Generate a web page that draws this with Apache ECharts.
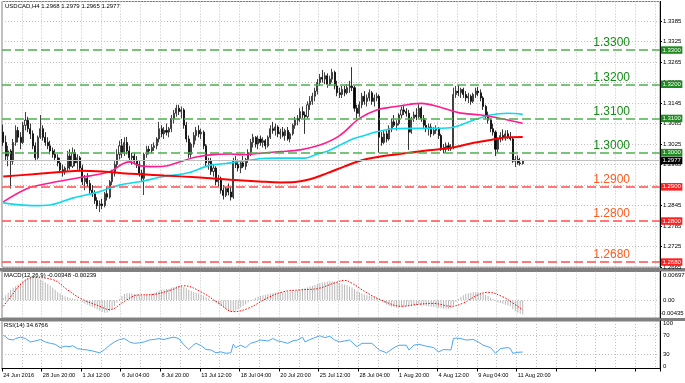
<!DOCTYPE html>
<html><head><meta charset="utf-8">
<script src="https://cdn.jsdelivr.net/npm/echarts@6/dist/echarts.min.js"></script>
<style>html,body{margin:0;padding:0;background:#fff}#c{width:685px;height:383px}</style>
</head><body><div id="c"></div>
<script>
// ---------- DATA ----------
const tickLabels = ['24 Jun 2016','28 Jun 20:00','1 Jul 12:00','6 Jul 04:00','8 Jul 20:00','13 Jul 12:00','18 Jul 04:00','20 Jul 20:00','25 Jul 12:00','28 Jul 04:00','1 Aug 20:00','4 Aug 12:00','9 Aug 04:00','11 Aug 20:00'];
const barsPerLabel = 16;
const slotCount = 266;
const titleText = 'USDCAD,H4 1.2968 1.2979 1.2965 1.2977';
const macdTitle = 'MACD(12,26,9) -0.00348 -0.00239';
const rsiTitle = 'RSI(14) 34.6766';
// [open, high, low, close] per H4 bar
const ohlc = [
[1.3060,1.3082,1.3020,1.3030],[1.3030,1.3050,1.2975,1.2990],[1.2990,1.3020,1.2960,1.3005],[1.3005,1.3010,1.2895,1.2975],[1.2975,1.3040,1.2965,1.3030],
[1.3030,1.3080,1.3020,1.3065],[1.3065,1.3075,1.3030,1.3045],[1.3045,1.3060,1.3010,1.3030],[1.3030,1.3090,1.3025,1.3080],[1.3080,1.3119,1.3065,1.3095],
[1.3095,1.3105,1.3060,1.3070],[1.3070,1.3085,1.3040,1.3055],[1.3055,1.3065,1.3010,1.3020],[1.3020,1.3030,1.2975,1.2985],[1.2985,1.3050,1.2980,1.3045],
[1.3045,1.3110,1.3040,1.3070],[1.3070,1.3080,1.3035,1.3045],[1.3045,1.3060,1.3020,1.3030],[1.3030,1.3045,1.3010,1.3020],[1.3020,1.3035,1.2995,1.3005],
[1.3005,1.3015,1.2985,1.2995],[1.2995,1.3010,1.2975,1.2985],[1.2985,1.2995,1.2960,1.2970],[1.2970,1.2985,1.2940,1.2950],[1.2950,1.2965,1.2930,1.2945],
[1.2945,1.2960,1.2935,1.2955],[1.2955,1.3005,1.2945,1.2990],[1.2990,1.3010,1.2950,1.2960],[1.2960,1.3015,1.2955,1.3000],[1.3000,1.3010,1.2960,1.2970],
[1.2970,1.2995,1.2950,1.2985],[1.2985,1.2990,1.2945,1.2955],[1.2955,1.2965,1.2905,1.2915],[1.2915,1.2935,1.2890,1.2925],[1.2925,1.2940,1.2900,1.2910],
[1.2910,1.2920,1.2880,1.2890],[1.2890,1.2905,1.2870,1.2880],[1.2880,1.2890,1.2850,1.2860],[1.2860,1.2870,1.2835,1.2845],[1.2845,1.2860,1.2826,1.2850],
[1.2850,1.2865,1.2835,1.2845],[1.2845,1.2885,1.2840,1.2880],[1.2880,1.2900,1.2860,1.2870],[1.2870,1.2920,1.2865,1.2915],[1.2915,1.2950,1.2905,1.2940],
[1.2940,1.2975,1.2930,1.2965],[1.2965,1.3010,1.2955,1.2995],[1.2995,1.3035,1.2980,1.3020],[1.3020,1.3040,1.2985,1.3000],[1.3000,1.3045,1.2990,1.3030],
[1.3030,1.3046,1.2995,1.3005],[1.3005,1.3020,1.2975,1.2985],[1.2985,1.3000,1.2965,1.2990],[1.2990,1.3000,1.2970,1.2975],[1.2975,1.2990,1.2955,1.2965],
[1.2965,1.2975,1.2930,1.2940],[1.2940,1.2950,1.2915,1.2925],[1.2925,1.3000,1.2876,1.2995],[1.2995,1.3020,1.2985,1.3010],[1.3010,1.3020,1.2995,1.3005],
[1.3005,1.3025,1.2998,1.3015],[1.3015,1.3030,1.3005,1.3020],[1.3020,1.3045,1.3010,1.3040],[1.3040,1.3090,1.3030,1.3070],[1.3070,1.3080,1.3045,1.3055],
[1.3055,1.3075,1.3040,1.3065],[1.3065,1.3085,1.3050,1.3060],[1.3060,1.3075,1.3045,1.3070],[1.3070,1.3110,1.3060,1.3100],[1.3100,1.3125,1.3085,1.3115],
[1.3115,1.3140,1.3105,1.3130],[1.3130,1.3140,1.3110,1.3120],[1.3120,1.3135,1.3100,1.3125],[1.3125,1.3130,1.3070,1.3080],[1.3080,1.3090,1.3030,1.3040],
[1.3040,1.3050,1.2985,1.2995],[1.2995,1.3030,1.2985,1.3025],[1.3025,1.3060,1.3015,1.3050],[1.3050,1.3075,1.3035,1.3065],[1.3065,1.3080,1.3045,1.3055],
[1.3055,1.3070,1.3040,1.3060],[1.3060,1.3065,1.3010,1.3020],[1.3020,1.3025,1.2960,1.2970],[1.2970,1.2985,1.2950,1.2975],[1.2975,1.2985,1.2935,1.2945],
[1.2945,1.2965,1.2930,1.2955],[1.2955,1.2960,1.2905,1.2915],[1.2915,1.2935,1.2900,1.2925],[1.2925,1.2930,1.2880,1.2890],[1.2890,1.2905,1.2863,1.2875],
[1.2875,1.2900,1.2870,1.2895],[1.2895,1.2910,1.2875,1.2885],[1.2885,1.2900,1.2860,1.2870],[1.2870,1.2985,1.2865,1.2975],[1.2975,1.2990,1.2955,1.2965],
[1.2965,1.2980,1.2945,1.2955],[1.2955,1.2975,1.2940,1.2970],[1.2970,1.2990,1.2955,1.2960],[1.2960,1.2985,1.2950,1.2980],[1.2980,1.3010,1.2970,1.3000],
[1.3000,1.3040,1.2990,1.3030],[1.3030,1.3055,1.3015,1.3045],[1.3045,1.3048,1.3015,1.3025],[1.3025,1.3050,1.3010,1.3040],[1.3040,1.3050,1.3020,1.3030],
[1.3030,1.3045,1.3015,1.3035],[1.3035,1.3040,1.3010,1.3020],[1.3020,1.3050,1.3015,1.3045],[1.3045,1.3080,1.3040,1.3070],[1.3070,1.3090,1.3055,1.3065],
[1.3065,1.3085,1.3050,1.3075],[1.3075,1.3080,1.3045,1.3055],[1.3055,1.3070,1.3040,1.3060],[1.3060,1.3075,1.3045,1.3050],[1.3050,1.3070,1.3035,1.3065],
[1.3065,1.3075,1.3035,1.3040],[1.3040,1.3060,1.3030,1.3055],[1.3055,1.3085,1.3050,1.3080],[1.3080,1.3105,1.3070,1.3095],[1.3095,1.3110,1.3080,1.3100],
[1.3100,1.3130,1.3090,1.3120],[1.3120,1.3135,1.3100,1.3110],[1.3110,1.3120,1.3055,1.3105],[1.3105,1.3150,1.3100,1.3140],[1.3140,1.3165,1.3125,1.3150],
[1.3150,1.3175,1.3140,1.3165],[1.3165,1.3190,1.3150,1.3180],[1.3180,1.3215,1.3170,1.3205],[1.3205,1.3230,1.3195,1.3220],[1.3220,1.3242,1.3205,1.3215],
[1.3215,1.3235,1.3200,1.3225],[1.3225,1.3232,1.3190,1.3200],[1.3200,1.3225,1.3195,1.3215],[1.3215,1.3245,1.3205,1.3235],[1.3235,1.3240,1.3185,1.3195],
[1.3195,1.3210,1.3165,1.3175],[1.3175,1.3190,1.3160,1.3170],[1.3170,1.3195,1.3160,1.3185],[1.3185,1.3195,1.3165,1.3175],[1.3175,1.3200,1.3170,1.3190],
[1.3190,1.3210,1.3175,1.3195],[1.3195,1.3250,1.3180,1.3190],[1.3190,1.3195,1.3120,1.3130],[1.3130,1.3140,1.3100,1.3115],[1.3115,1.3150,1.3105,1.3140],
[1.3140,1.3175,1.3130,1.3165],[1.3165,1.3180,1.3140,1.3150],[1.3150,1.3170,1.3135,1.3160],[1.3160,1.3185,1.3150,1.3175],[1.3175,1.3180,1.3140,1.3150],
[1.3150,1.3170,1.3135,1.3160],[1.3160,1.3175,1.3150,1.3165],[1.3165,1.3170,1.3000,1.3045],[1.3045,1.3060,1.3020,1.3030],[1.3030,1.3065,1.3025,1.3055],
[1.3055,1.3065,1.3030,1.3040],[1.3040,1.3080,1.3035,1.3070],[1.3070,1.3100,1.3060,1.3090],[1.3090,1.3110,1.3075,1.3080],[1.3080,1.3095,1.3065,1.3085],
[1.3085,1.3115,1.3080,1.3110],[1.3110,1.3135,1.3100,1.3125],[1.3125,1.3140,1.3110,1.3120],[1.3120,1.3130,1.3105,1.3115],[1.3115,1.3125,1.3008,1.3060],
[1.3060,1.3105,1.3055,1.3100],[1.3100,1.3120,1.3090,1.3110],[1.3110,1.3130,1.3095,1.3105],[1.3105,1.3142,1.3100,1.3130],[1.3130,1.3135,1.3090,1.3100],
[1.3100,1.3110,1.3070,1.3080],[1.3080,1.3095,1.3060,1.3070],[1.3070,1.3085,1.3050,1.3075],[1.3075,1.3085,1.3045,1.3055],[1.3055,1.3075,1.3050,1.3065],
[1.3065,1.3080,1.3055,1.3070],[1.3070,1.3075,1.3040,1.3050],[1.3050,1.3055,1.3005,1.3015],[1.3015,1.3025,1.2998,1.3010],[1.3010,1.3030,1.3000,1.3020],
[1.3020,1.3030,1.3005,1.3012],[1.3012,1.3025,1.3005,1.3015],[1.3015,1.3190,1.3010,1.3170],[1.3170,1.3195,1.3160,1.3180],[1.3180,1.3198,1.3165,1.3175],
[1.3175,1.3190,1.3160,1.3185],[1.3185,1.3190,1.3160,1.3170],[1.3170,1.3180,1.3150,1.3160],[1.3160,1.3175,1.3145,1.3165],[1.3165,1.3170,1.3140,1.3150],
[1.3150,1.3175,1.3145,1.3170],[1.3170,1.3190,1.3160,1.3180],[1.3180,1.3192,1.3165,1.3175],[1.3175,1.3185,1.3150,1.3160],[1.3160,1.3165,1.3125,1.3135],
[1.3135,1.3140,1.3100,1.3110],[1.3110,1.3120,1.3085,1.3095],[1.3095,1.3100,1.3060,1.3070],[1.3070,1.3085,1.3050,1.3060],[1.3060,1.3065,1.2990,1.3010],
[1.3010,1.3045,1.3000,1.3040],[1.3040,1.3060,1.3030,1.3050],[1.3050,1.3068,1.3035,1.3045],[1.3045,1.3065,1.3035,1.3055],[1.3055,1.3066,1.3040,1.3045],
[1.3045,1.3060,1.3035,1.3040],[1.3040,1.3045,1.2970,1.2975],[1.2975,1.2990,1.2958,1.2980],[1.2980,1.2992,1.2965,1.2970],[1.2970,1.2985,1.2962,1.2968],
[1.2968,1.2979,1.2965,1.2977]
];
// moving averages: [bar index, price]
const maRed = [[0,1.2930],[12,1.2937],[24,1.2944],[31,1.2947],[40,1.2945],[52,1.2938],[65,1.2933],[78,1.2928],[92,1.2921],[105,1.2915],[112,1.2913],[118,1.2914],[124,1.2922],[131,1.2940],[138,1.2960],[145,1.2978],[152,1.2988],[158,1.2994],[164,1.3000],[172,1.3007],[181,1.3014],[189,1.3027],[197,1.3037],[204,1.3045],[210,1.3046]];
const maMagenta = [[0,1.2856],[10,1.2896],[19,1.2911],[30,1.2926],[43,1.2944],[48,1.2966],[51,1.2973],[55,1.2962],[60,1.2959],[65,1.2960],[70,1.2970],[78,1.2987],[86,1.2995],[92,1.2996],[96,1.2994],[105,1.2999],[112,1.3003],[120,1.3008],[128,1.3022],[136,1.3050],[144,1.3100],[151,1.3125],[158,1.3134],[164,1.3141],[169,1.3144],[177,1.3132],[184,1.3117],[193,1.3110],[201,1.3100],[210,1.3086]];
const maCyan = [[0,1.2853],[12,1.2845],[19,1.2847],[28,1.2867],[39,1.2886],[47,1.2905],[55,1.2915],[65,1.2930],[75,1.2941],[83,1.2962],[88,1.2967],[92,1.2970],[105,1.2983],[111,1.2984],[122,1.2984],[127,1.2996],[131,1.3004],[137,1.3025],[142,1.3042],[145,1.3048],[151,1.3061],[158,1.3070],[165,1.3071],[172,1.3071],[181,1.3073],[190,1.3095],[197,1.3110],[204,1.3115],[210,1.3112]];
const levelsGreen = [1.3300, 1.3200, 1.3100, 1.3000];
const levelsRed = [1.2900, 1.2800, 1.2680];
const lastPrice = 1.2977;
const priceMin = 1.2665, priceMax = 1.3442, priceStep = 0.006;
// MACD histogram, one per bar
const macdHist = [
0.0005,0.0012,0.0018,0.0025,0.0030,
0.0034,0.0038,0.0042,0.0046,0.0050,0.0053,0.0055,0.0056,
0.0055,0.0053,0.0050,0.0047,0.0043,0.0039,0.0035,0.0030,0.0025,0.0020,0.0016,
0.0012,0.0009,0.0007,0.0005,0.0004,0.0003,0.0002,0.0000,
-0.0004,-0.0008,-0.0011,-0.0014,-0.0017,-0.0020,-0.0023,-0.0026,-0.0029,-0.0031,-0.0030,-0.0027,
-0.0021,-0.0014,-0.0006,0.0003,0.0010,0.0015,
0.0017,0.0017,0.0016,0.0015,0.0014,0.0012,0.0011,0.0012,0.0013,0.0014,
0.0016,0.0018,0.0020,0.0023,0.0025,0.0026,0.0027,0.0028,0.0030,0.0032,0.0034,0.0035,0.0034,0.0032,0.0029,
0.0025,0.0022,0.0020,0.0018,0.0016,0.0014,0.0011,0.0007,0.0004,0.0001,-0.0002,
-0.0006,-0.0010,-0.0014,-0.0018,-0.0022,-0.0026,-0.0029,-0.0028,-0.0025,-0.0022,-0.0018,
-0.0014,-0.0010,-0.0006,-0.0002,0.0002,0.0005,0.0008,0.0010,0.0012,
0.0013,0.0015,0.0016,0.0017,0.0018,0.0018,0.0018,0.0019,0.0019,0.0020,0.0020,0.0021,0.0022,0.0024,0.0026,
0.0028,0.0029,0.0031,0.0033,0.0035,0.0037,0.0039,0.0041,0.0043,0.0044,0.0045,0.0046,0.0046,0.0045,0.0044,0.0042,0.0040,0.0038,
0.0036,0.0033,0.0031,0.0027,0.0023,0.0019,0.0016,
0.0014,0.0012,0.0011,0.0009,0.0008,0.0006,0.0004,
-0.0002,-0.0007,-0.0011,-0.0014,-0.0016,-0.0017,-0.0018,-0.0018,-0.0017,
-0.0016,-0.0015,-0.0015,-0.0014,-0.0013,-0.0012,-0.0012,-0.0013,-0.0013,-0.0014,-0.0015,-0.0016,-0.0017,-0.0018,-0.0019,-0.0020,-0.0021,-0.0021,-0.0021,-0.0020,-0.0012,
-0.0004,0.0003,0.0008,0.0012,0.0015,0.0017,0.0018,0.0019,
0.0019,0.0019,0.0018,0.0016,0.0013,0.0010,0.0006,0.0003,
-0.0002,-0.0005,-0.0007,-0.0009,-0.0011,-0.0013,-0.0015,-0.0022,
-0.0027,-0.0031,-0.0033,-0.00348
];
const macdSignal = [[0,-0.0015],[3,0.0008],[7,0.0038],[12,0.0055],[20,0.0050],[26,0.0025],[31,0.0005],[39,-0.0015],[43,-0.0023],[49,-0.0003],[54,0.0012],[61,0.0014],[68,0.0025],[73,0.0035],[80,0.0020],[87,-0.0007],[93,-0.0028],[99,-0.0020],[107,0.0006],[113,0.0020],[120,0.0025],[127,0.0028],[134,0.0042],[138,0.0048],[141,0.0041],[147,0.0018],[154,-0.0003],[161,-0.0015],[168,-0.0010],[174,-0.0008],[181,-0.0015],[186,-0.0007],[192,0.0013],[196,0.0019],[202,0.0008],[206,-0.0007],[210,-0.00239]];
const macdMin = -0.00435, macdMax = 0.00697;
const rsi = [[0,70],[1,67],[2,62],[4,60],[5,63],[7,66],[9,63],[11,56],[13,58],[15,61],[17,56],[19,53],[21,51],[23,44],[25,47],[27,46],[28,48],[30,42],[32,40],[34,39],[36,37],[39,33],[41,40],[43,49],[45,56],[47,61],[49,63],[51,56],[53,53],[55,54],[57,56],[59,60],[61,61],[63,63],[65,61],[67,64],[69,66],[71,63],[73,50],[75,40],[77,50],[78,53],[80,48],[82,40],[84,39],[86,33],[88,35],[90,32],[92,33],[93,51],[94,44],[96,49],[98,44],[100,53],[102,56],[104,60],[107,58],[109,63],[111,58],[113,56],[115,53],[117,58],[119,60],[121,66],[122,56],[124,61],[126,65],[128,69],[130,65],[132,68],[134,60],[136,56],[138,58],[140,60],[143,46],[145,53],[149,53],[152,39],[155,33],[158,44],[160,49],[163,49],[164,39],[166,49],[168,51],[171,47],[174,44],[176,35],[178,40],[181,39],[182,63],[183,64],[185,63],[187,60],[190,61],[192,56],[194,49],[197,44],[199,32],[201,42],[204,44],[205,42],[206,32],[208,34],[210,34.68]];
const rsiLevels = [30, 70];

// ---------- LAYOUT / STYLE ----------
const FF = 'Liberation Sans';
const G = {left: 2, right: 25, mainTop: 1.5, mainH: 265.7, macdTop: 271.5, macdH: 46.5, rsiTop: 321, rsiH: 47.5};
const GRIDC = '#c0c0c0';
const green = '#4fb04f', greenText = '#158c15', greenBox = '#1f8a1f';
const red = '#ff4d4d', redText = '#ff5a1e', redBox = '#ff2020';

const categories = Array.from({length: slotCount}, (_, i) => String(i));
const candles = ohlc.map(r => [r[0], r[3], r[2], r[1]]);

function xAx(gi, show) {
  return {
    type: 'category', gridIndex: gi, data: categories, boundaryGap: true,
    axisLine: {show: show, lineStyle: {color: '#000', width: 1}},
    axisTick: {show: show, interval: barsPerLabel - 1, length: 3, lineStyle: {color: '#000'}},
    axisLabel: {show: show, interval: barsPerLabel - 1, align: 'left', margin: 4,
      fontSize: 5.6, fontFamily: FF, color: '#000',
      formatter: v => { const i = +v; return i % barsPerLabel === 0 ? (tickLabels[i / barsPerLabel] || '') : ''; }},
    splitLine: {show: true, interval: 7, lineStyle: {color: GRIDC, type: [1, 2], width: 1}}
  };
}
function yAxSub(gi, mn, mx) {
  return {type: 'value', gridIndex: gi, position: 'right', min: mn, max: mx,
    axisLine: {show: true, lineStyle: {color: '#000'}}, axisTick: {show: false},
    axisLabel: {show: false}, splitLine: {show: false}};
}
const dashLine = (v, col, txtCol) => ({
  yAxis: v, lineStyle: {color: col, type: [9, 4], width: 1.5},
  label: {show: true, position: 'insideEndTop', distance: [30, 1], formatter: v.toFixed(4),
    color: txtCol, fontSize: 12, fontFamily: FF}
});
const boxLabel = (v, bg) => ({
  yAxis: v, lineStyle: {color: 'rgba(0,0,0,0)', width: 1, opacity: 1},
  label: {show: true, position: 'end', distance: 1, formatter: v.toFixed(4), color: '#fff', opacity: 1,
    backgroundColor: bg, fontSize: 6, lineHeight: 6, padding: [1, 1.5, 0.5, 1.5], fontFamily: FF}
});

const chart = echarts.init(document.getElementById('c'), null, {renderer: 'canvas'});
const gridBase = {left: G.left, right: G.right, show: true, borderColor: '#808080', borderWidth: 1};
chart.setOption({
  animation: false,
  backgroundColor: '#fff',
  grid: [
    Object.assign({top: G.mainTop, height: G.mainH}, gridBase),
    Object.assign({top: G.macdTop, height: G.macdH}, gridBase),
    Object.assign({top: G.rsiTop, height: G.rsiH}, gridBase)
  ],
  xAxis: [xAx(0, false), xAx(1, false), xAx(2, true)],
  yAxis: [
    {type: 'value', gridIndex: 0, position: 'right', min: priceMin, max: priceMax, interval: priceStep,
      axisLine: {show: true, lineStyle: {color: '#000'}},
      axisTick: {show: true, length: 2, lineStyle: {color: '#000'}},
      axisLabel: {fontSize: 6, fontFamily: FF, color: '#000', margin: 3, showMaxLabel: false,
        formatter: v => v.toFixed(4)},
      splitLine: {show: true, lineStyle: {color: GRIDC, type: [1, 2], width: 1}}},
    yAxSub(1, macdMin, macdMax),
    yAxSub(2, 0, 100)
  ],
  series: [
    {type: 'candlestick', xAxisIndex: 0, yAxisIndex: 0, data: candles, barWidth: 1.6,
      itemStyle: {color: '#ffffff', color0: '#000000', borderColor: '#111', borderColor0: '#000', borderWidth: 0.8},
      markLine: {silent: true, symbol: ['none', 'none'], animation: false, precision: 5,
        data: [
          {yAxis: lastPrice, lineStyle: {color: '#c0c0c0', type: 'solid', width: 1}, label: {show: false}},
          ...levelsGreen.map(v => dashLine(v, green, greenText)),
          ...levelsRed.map(v => dashLine(v, red, redText))
        ]}},
    {type: 'line', xAxisIndex: 0, yAxisIndex: 0, data: maCyan, showSymbol: false, smooth: 0.35,
      lineStyle: {color: '#12d8ee', width: 1.6}},
    {type: 'line', xAxisIndex: 0, yAxisIndex: 0, data: maMagenta, showSymbol: false, smooth: 0.35,
      lineStyle: {color: '#ff1c8e', width: 1.6}},
    {type: 'line', xAxisIndex: 0, yAxisIndex: 0, data: maRed, showSymbol: false, smooth: 0.35,
      lineStyle: {color: '#ff0000', width: 2}},
    {type: 'line', xAxisIndex: 0, yAxisIndex: 0, data: [], z: 10,
      markLine: {silent: true, symbol: ['none', 'none'], animation: false, z: 10, precision: 5,
        data: [
          ...levelsGreen.map(v => boxLabel(v, greenBox)),
          ...levelsRed.map(v => boxLabel(v, redBox)),
          boxLabel(lastPrice, '#000000')
        ]}},
    {type: 'bar', xAxisIndex: 1, yAxisIndex: 1, data: macdHist, barWidth: 1,
      itemStyle: {color: '#b8b8b8'},
      markLine: {silent: true, symbol: ['none', 'none'], animation: false, precision: 5,
        lineStyle: {color: GRIDC, type: [1, 2], width: 1}, label: {show: false}, data: [{yAxis: 0}]}},
    {type: 'line', xAxisIndex: 1, yAxisIndex: 1, data: macdSignal, showSymbol: false, smooth: 0.4,
      lineStyle: {color: '#ff0000', width: 1, type: [1.5, 1.5]}},
    {type: 'line', xAxisIndex: 2, yAxisIndex: 2, data: rsi, showSymbol: false,
      lineStyle: {color: '#4ea6f2', width: 1},
      markLine: {silent: true, symbol: ['none', 'none'], animation: false,
        lineStyle: {color: GRIDC, type: [1, 2], width: 1}, label: {show: false},
        data: rsiLevels.map(v => ({yAxis: v}))}}
  ]
});

// panel labels, separators and sub-panel axis labels
const px = (ai, v) => chart.convertToPixel({yAxisIndex: ai}, v);
const axX = 685 - G.right + 3;
const txt = (x, y, t, size) => ({type: 'text', x: x, y: y, silent: true,
  style: {text: t, fontSize: size || 6, fontFamily: FF, fill: '#000', verticalAlign: 'middle', align: 'left'}});
const mainBottom = G.mainTop + G.mainH, macdBottom = G.macdTop + G.macdH;
chart.setOption({
  graphic: [
    {type: 'rect', silent: true, shape: {x: 0, y: mainBottom + 0.8, width: 685, height: G.macdTop - mainBottom - 0.8}, style: {fill: '#808080'}},
    {type: 'rect', silent: true, shape: {x: 0, y: macdBottom, width: 685, height: G.rsiTop - macdBottom}, style: {fill: '#808080'}},
    txt(5, G.mainTop + 5, titleText),
    txt(4, G.macdTop + 4, macdTitle),
    txt(4, G.rsiTop + 4, rsiTitle),
    txt(axX, px(1, macdMax) + 3.5, macdMax.toFixed(5)),
    txt(axX, px(1, 0), '0.00'),
    txt(axX - 3, px(1, macdMin) - 4.5, macdMin.toFixed(5)),
    txt(axX, px(2, 100) + 2.5, '100'),
    txt(axX, px(2, 70), '70'),
    txt(axX, px(2, 30), '30'),
    txt(axX, px(2, 0) - 2.5, '0')
  ]
});
</script>
</body></html>
